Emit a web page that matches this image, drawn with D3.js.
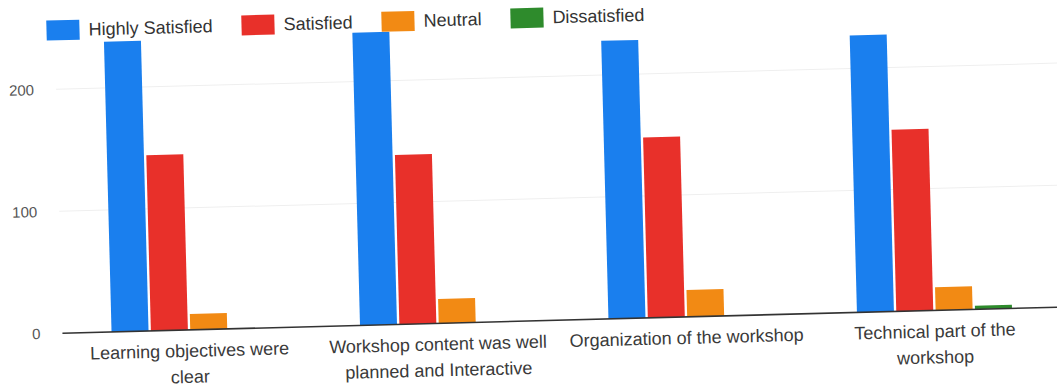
<!DOCTYPE html>
<html><head><meta charset="utf-8">
<script src="https://cdn.jsdelivr.net/npm/d3@7"></script>
<style>
body{margin:0;background:#fff;}
svg{display:block;font-family:"Liberation Sans",Arial,sans-serif;}
</style>
</head><body>
<svg id="c" width="1057" height="392"></svg>
<script>
const categories = ["Learning objectives were clear","Workshop content was well planned and Interactive","Organization of the workshop","Technical part of the workshop"];
const categoryLines = [["Learning objectives were","clear"],["Workshop content was well","planned and Interactive"],["Organization of the workshop"],["Technical part of the","workshop"]];
const seriesNames = ["Highly Satisfied","Satisfied","Neutral","Dissatisfied"];
const seriesColors = ["#1a7fee","#e8302a","#f28a14","#2e8b2c"];
const highlySatisfied = [238,240,228,227];
const satisfied = [144,139,148,149];
const neutral = [13,20,22,19];
const dissatisfied = [0,0,0,3];
const yTicks = [0,100,200];

const seriesValues = [highlySatisfied, satisfied, neutral, dissatisfied];

const svg = d3.select("#c");
const root = svg.append("g").attr("transform","rotate(-1.5 528 196)");

const x0 = d3.scaleBand().domain(categories).range([46,1071]).paddingInner(0.376).paddingOuter(0.25);
const x1 = d3.scaleBand().domain(seriesNames).range([0,x0.bandwidth()]).paddingInner(0.06);
const y = d3.scaleLinear().domain([0,250]).range([321,16]);
const color = d3.scaleOrdinal().domain(seriesNames).range(seriesColors);

// gridlines
root.append("g").selectAll("line").data(yTicks.filter(t=>t>0)).join("line")
  .attr("x1",59).attr("x2",1120).attr("y1",d=>y(d)).attr("y2",d=>y(d))
  .attr("stroke","#efefef").attr("stroke-width",1);

// y axis labels
const yAxis = d3.axisLeft(y).tickValues(yTicks).tickSize(0).tickPadding(0).tickFormat(d3.format("d"));
const ya = root.append("g").attr("transform","translate(37,0)").call(yAxis);
ya.select(".domain").remove();
ya.selectAll("text").attr("font-size",15).attr("fill","#555").attr("font-family","'Liberation Sans',Arial,sans-serif");

// bars
const groups = root.append("g").selectAll("g").data(categories).join("g")
  .attr("transform",d=>`translate(${x0(d)},0)`);
groups.selectAll("rect").data((d,i)=>seriesNames.map((s,j)=>({s, v: seriesValues[j][i]}))).join("rect")
  .attr("x",d=>x1(d.s)).attr("width",x1.bandwidth())
  .attr("y",d=>y(d.v)).attr("height",d=>y(0)-y(d.v))
  .attr("fill",d=>color(d.s));

// baseline
root.append("line").attr("x1",59).attr("x2",1120).attr("y1",y(0)).attr("y2",y(0))
  .attr("stroke","#333").attr("stroke-width",1.6);

// category labels
const cl = root.append("g").selectAll("text").data(categories).join("text")
  .attr("x",d=>x0(d)+x0.bandwidth()/2).attr("y",348)
  .attr("text-anchor","middle").attr("font-size",18).attr("fill","#3a3a3a");
cl.each(function(d,i){
  const t = d3.select(this);
  categoryLines[i].forEach((ln,k)=>{
    t.append("tspan").attr("x",x0(d)+x0.bandwidth()/2).attr("dy",k===0?0:26).text(ln);
  });
});

// legend
const lg = root.append("g");
let lx = 51;
seriesNames.forEach((s,i)=>{
  lg.append("rect").attr("x",lx).attr("y",8).attr("width",33).attr("height",20).attr("fill",color(s));
  const t = lg.append("text").attr("x",lx+42).attr("y",24).attr("font-size",18).attr("fill","#333").text(s);
  lx += 42 + t.node().getComputedTextLength() + 29;
});
</script>
</body></html>
